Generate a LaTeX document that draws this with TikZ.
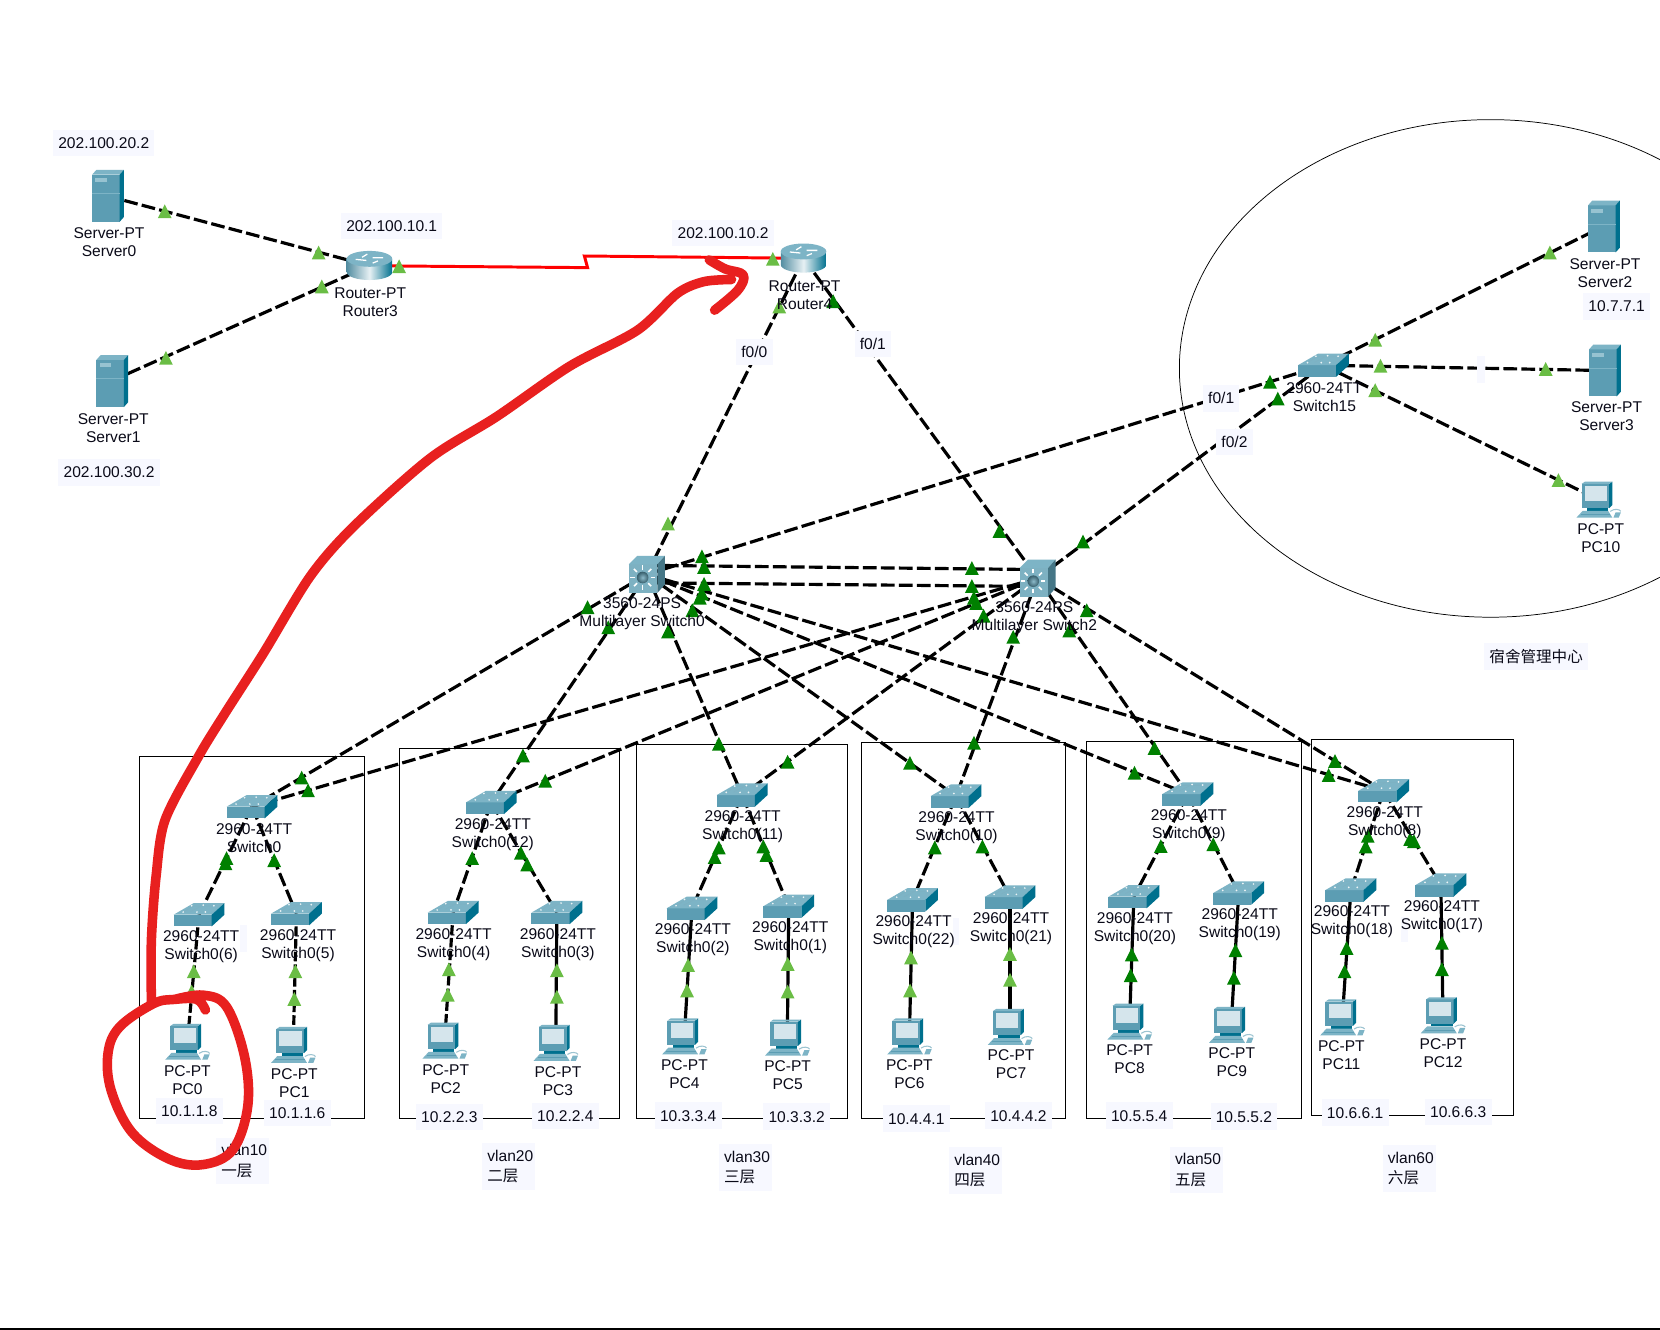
\documentclass[tikz,border=0pt]{standalone}
\usepackage{fontspec}
\setmainfont{Liberation Sans}
\newfontfamily\cjk{Noto Sans CJK SC}
\definecolor{txt}{HTML}{0A0A18}
\definecolor{lbg}{HTML}{F7F8FF}
\definecolor{lgreen}{HTML}{6ABD45}
\definecolor{dgreen}{HTML}{008000}
\definecolor{front}{HTML}{5C9DB3}
\definecolor{topc}{HTML}{7DB4C6}
\definecolor{sidec}{HTML}{00708E}
\definecolor{scr}{HTML}{D5E5EC}
\definecolor{pen}{HTML}{E8201F}
\tikzset{
  x=1pt,y=-1pt,
  link/.style={black,line width=3pt,dash pattern=on 13pt off 4pt},
  linkshort/.style={black,line width=3pt,dash pattern=on 9pt off 3pt},
  linksolid/.style={black,line width=3pt},
  serial/.style={red,line width=2.8pt},
  penstroke/.style={pen,line width=9pt,line cap=round,line join=round},
  vbox/.style={black,line width=1pt},
  devtext/.style={text=txt,font=\fontsize{14.7}{17}\selectfont,align=center,inner sep=0pt,yshift=-.5pt},
  iplabel/.style={text=txt,font=\fontsize{14.7}{17}\selectfont,fill=lbg,inner xsep=5pt,inner ysep=0pt,minimum height=25pt,yshift=-.3pt},
  vlanlabel/.style={text=txt,font=\fontsize{14.7}{19}\selectfont,fill=lbg,inner xsep=5pt,inner ysep=0pt,minimum height=44pt,text width=40pt,align=left,xshift=-1pt,yshift=-.7pt},
}
\newcommand{\tl}[2]{\fill[lgreen,shift={(#1,#2)}] (-6.5,6)--(6.5,6)--(0,-7)--cycle;}
\newcommand{\td}[2]{\fill[dgreen,shift={(#1,#2)}] (-6.5,6)--(6.5,6)--(0,-7)--cycle;}
\newcommand{\swicon}[1]{\begin{scope}[shift={(#1)}]
  \fill[front] (-24,0)--(12,0)--(12,11)--(-24,11)--cycle;
  \fill[topc] (-24,0)--(-5,-11)--(24,-11)--(12,0)--cycle;
  \fill[sidec] (12,0)--(24,-11)--(24,0)--(12,11)--cycle;
  \draw[front!80!white,line width=.6pt] (-14,-3)--(-6,-8)--(12,-8) (-8,-3)--(2,-8);
  \fill[white!85!topc] (-15,-2.5) circle (.9) (-2,-2.5) circle (.9) (4,-9) circle (.9) (14,-8.5) circle (.9) (-7,-8.5) circle (.9) (6,-2.5) circle (.9);
\end{scope}}
\newcommand{\mlsicon}[1]{\begin{scope}[shift={(#1)}]
  \fill[front!80!white] (-17,-9.5) rectangle (10,17.5);
  \fill[topc] (-17,-9.5)--(-9,-17.5)--(17,-17.5)--(10,-9.5)--cycle;
  \fill[front!75!black] (10,-9.5)--(17,-17.5)--(17,9.5)--(10,17.5)--cycle;
  \foreach \a in {0,45,...,315}{\draw[white,line width=1.5pt,shift={(-4,3)}] (\a:7.5)--(\a:11.5);}
  \shade[inner color=front!70!white,outer color=front!60!black] (-4,3) circle (5.5);
\end{scope}}
\newcommand{\rticon}[1]{\begin{scope}[shift={(#1)}]
  \shade[left color=front!90!black,right color=sidec,middle color=white!85!front] (-21.5,-6.5)--(-21.5,6) arc[x radius=21.5,y radius=7.5,start angle=180,end angle=0] --(21.5,-6.5)--cycle;
  \fill[topc] (0,-6.5) ellipse[x radius=21.5,y radius=7.5];
  \draw[white,line width=1.2pt] (-13,-6)--(-3,-5) (13,-7.5)--(3,-7.5) (-2,-11)--(-7,-8) (3,-2.5)--(8,-4.5);
\end{scope}}
\newcommand{\svicon}[1]{\begin{scope}[shift={(#1)}]
  \fill[front] (-14,-20) rectangle (12,24.5);
  \fill[topc] (-14,-20)--(-10,-24.5)--(16,-24.5)--(12,-20)--cycle;
  \fill[sidec] (12,-20)--(16,-24.5)--(16,20)--(12,24.5)--cycle;
  \fill[topc!80!white] (-11,-17) rectangle (0,-13);
  \draw[topc,line width=.6pt] (-14,-2.4)--(12,-2.4);
\end{scope}}
\newcommand{\pcicon}[1]{\begin{scope}[shift={(#1)}]
  \fill[front] (-16,-15) rectangle (10,8);
  \fill[sidec] (10,-15)--(13,-17)--(13,5)--(10,8)--cycle;
  \fill[topc] (-16,-15)--(-13,-17)--(13,-17)--(10,-15)--cycle;
  \fill[scr] (-13,-13) rectangle (8,1);
  \fill[sidec] (-11,8) rectangle (9,10.5);
  \fill[topc] (-21,17)--(-15,10.5)--(9,10.5)--(13,17)--cycle;
  \draw[front,line width=.5pt] (-17,14)--(11,14);
  \draw[front!60!white,line width=1pt] (11,11)..controls (15,8) and (20,9)..(21,11);
  \fill[topc] (14,17)--(16,12)--(21,12)--(19,17)--cycle;
\end{scope}}
\newcommand{\ghost}[4]{\fill[lbg] (#1,#2) rectangle (#3,#4);}
\begin{document}
\begin{tikzpicture}
\useasboundingbox (0,0) rectangle (1568,1256);
\fill[white] (0,0) rectangle (1568,1256);
\fill[black] (0,1254.4) rectangle (1568,1256);
% devices
\coordinate (server0) at (101,185);
\coordinate (server1) at (105,360);
\coordinate (router3) at (349,251);
\coordinate (router4) at (759,244);
\coordinate (mls0) at (611,542.5);
\coordinate (mls2) at (980,546);
\coordinate (sw15) at (1250,345);
\coordinate (server2) at (1514,214);
\coordinate (server3) at (1515,350);
\coordinate (pc10) at (1510,472);
\coordinate (sw0) at (238,762);
\coordinate (sw12) at (464,758);
\coordinate (sw11) at (701,751);
\coordinate (sw10) at (903,752);
\coordinate (sw9) at (1122,750);
\coordinate (sw8) at (1307,747);
\coordinate (sw6) at (188,864);
\coordinate (sw5) at (280,863);
\coordinate (sw4) at (428,862);
\coordinate (sw3) at (526,862);
\coordinate (sw2) at (653.6,858);
\coordinate (sw1) at (745,856);
\coordinate (sw22) at (862,850);
\coordinate (sw21) at (954,847.3);
\coordinate (sw20) at (1071,847);
\coordinate (sw19) at (1170,843.5);
\coordinate (sw18) at (1276,840.7);
\coordinate (sw17) at (1361,836);
\coordinate (pc0) at (177,984);
\coordinate (pc1) at (277,987);
\coordinate (pc2) at (420,983);
\coordinate (pc3) at (525,985);
\coordinate (pc4) at (646.4,979);
\coordinate (pc5) at (743.7,980);
\coordinate (pc6) at (859,979);
\coordinate (pc7) at (954,970);
\coordinate (pc8) at (1067,965);
\coordinate (pc9) at (1163,968);
\coordinate (pc11) at (1268,961);
\coordinate (pc12) at (1363,959);
% vlan boxes
\draw[vbox] (132,714.5) rectangle (344,1056.4);
\draw[vbox] (377,707) rectangle (585,1056.4);
\draw[vbox] (601.3,703.5) rectangle (800.7,1056.4);
\draw[vbox] (814,701.5) rectangle (1006.6,1056.4);
\draw[vbox] (1026.3,700.5) rectangle (1229,1056.4);
\draw[vbox] (1239,698.3) rectangle (1430,1053.5);
% dormitory ellipse
\begin{scope}
\clip (0,0) rectangle (1568,1256);
\draw[black,line width=.7pt] (1408,348) ellipse[x radius=294,y radius=235];
\end{scope}
% links
\draw[serial] (router3)--(555,252.8)--(552,241.8)--(router4);
\draw[link] (server0)--(router3);
\draw[link] (server1)--(router3);
\draw[link] (router4)--(mls0);
\draw[link] (router4)--(mls2);
\draw[link] (mls0)--(sw15);
\draw[link] (mls2)--(sw15);
\draw[link] ([yshift=8.5pt]mls0)--([yshift=8pt]mls2);
\draw[link] ([yshift=-8pt]mls0)--([yshift=-8pt]mls2);
\foreach \s in {sw0,sw12,sw11,sw10,sw9,sw8}{
  \draw[link] (mls0)--(\s);
  \draw[link] (mls2)--(\s);
}
\draw[link] (sw15)--(server2);
\draw[link] (sw15)--(server3);
\draw[link] (sw15)--(pc10);
\draw[link] (sw0)--(sw6);
\draw[link] (sw0)--(sw5);
\draw[link] (sw12)--(sw4);
\draw[link] (sw12)--(sw3);
\draw[link] (sw11)--(sw2);
\draw[link] (sw11)--(sw1);
\draw[link] (sw10)--(sw22);
\draw[link] (sw10)--(sw21);
\draw[link] (sw9)--(sw20);
\draw[link] (sw9)--(sw19);
\draw[link] (sw8)--(sw18);
\draw[link] (sw8)--(sw17);
\draw[linkshort] (sw6)--(pc0);
\draw[linkshort] (sw5)--(pc1);
\draw[linkshort] (sw4)--(pc2);
\draw[linksolid] (sw3)--(pc3);
\draw[linksolid] (sw2)--(pc4);
\draw[linksolid] (sw1)--(pc5);
\draw[linksolid] (sw22)--(pc6);
\draw[linksolid] (sw21)--(pc7);
\draw[linksolid] (sw20)--(pc8);
\draw[linksolid] (sw19)--(pc9);
\draw[linksolid] (sw18)--(pc11);
\draw[linksolid] (sw17)--(pc12);
% link lights, light green
\tl{155.6}{200}\tl{301}{239}\tl{304}{271}\tl{156.7}{338.5}\tl{377}{252}\tl{730}{245}\tl{736}{290}\tl{631}{495}
\tl{1299}{321.5}\tl{1304}{346}\tl{1299}{369}\tl{1464}{239}\tl{1460}{349}\tl{1472}{454}
\tl{183}{918}\tl{181}{937}\tl{279}{918}\tl{278}{944}\tl{424}{916}\tl{423}{940}\tl{526}{917}\tl{526}{942}
\tl{650}{912}\tl{649}{936}\tl{744}{911}\tl{744}{937}\tl{860.5}{905}\tl{859.6}{936}\tl{954}{901.5}\tl{954}{926}
% link lights, dark green
\td{787}{285}\td{663}{526}\td{665}{536}\td{665}{552}\td{663}{561}\td{661}{565}\td{654}{577}\td{631}{597}\td{574.5}{593}\td{555}{574}
\td{918}{537}\td{918}{554}\td{920}{565}\td{922}{570}\td{929}{582}\td{957}{602}\td{1010}{596}\td{1026.5}{577}\td{1023}{512}\td{944}{502}
\td{1199.6}{361}\td{1207}{377}
\td{679}{703}\td{744}{720}\td{859.5}{721}\td{920}{702}\td{285}{735}\td{291}{747}\td{494}{714}\td{515}{738}
\td{1090.5}{707}\td{1071.6}{730.4}\td{1261}{719.4}\td{1255}{732.6}
\td{214}{811}\td{213}{816}\td{259}{813}\td{446}{811}\td{492}{806}\td{498}{817}
\td{679}{801}\td{675}{810}\td{721}{800}\td{724}{808}\td{883}{801}\td{928}{800}
\td{1096.5}{799.7}\td{1146}{798}\td{1069}{902}\td{1068}{921.6}\td{1167}{898}\td{1165.5}{924}
\td{1292}{790}\td{1290}{800}\td{1332}{793}\td{1335.5}{795}\td{1272}{896}\td{1270}{918}\td{1362}{891}\td{1362}{916}
% icons
\svicon{server0}\svicon{server1}\svicon{server2}\svicon{server3}
\rticon{router3}\rticon{router4}
\mlsicon{mls0}\mlsicon{mls2}
\foreach \s in {sw15,sw0,sw12,sw11,sw10,sw9,sw8,sw6,sw5,sw4,sw3,sw2,sw1,sw22,sw21,sw20,sw19,sw18,sw17}{\swicon{\s}}
\foreach \s in {pc10,pc0,pc1,pc2,pc3,pc4,pc5,pc6,pc7,pc8,pc9,pc11,pc12}{\pcicon{\s}}
% empty label remnants
\ghost{1395.5}{336.6}{1402.7}{361.9}\ghost{226.7}{873.8}{233.6}{899}\ghost{900.5}{867.4}{905.9}{892.6}\ghost{1323}{865.8}{1330}{889.5}
% device labels
\node[devtext] (lserver0) at (103,228) {Server-PT\\Server0};
\node[devtext] (lserver1) at (107,403.5) {Server-PT\\Server1};
\node[devtext] (lrouter3) at (349.7,284.5) {Router-PT\\Router3};
\node[devtext] (lrouter4) at (760,278) {Router-PT\\Router4};
\node[devtext] (lmls0) at (606.5,579.5) {3560-24PS\\Multilayer Switch0};
\node[devtext] (lmls2) at (977,583) {3560-24PS\\Multilayer Switch2};
\node[devtext] (lsw15) at (1251,374.5) {2960-24TT\\Switch15};
\node[devtext] (lserver2) at (1516,257.5) {Server-PT\\Server2};
\node[devtext] (lserver3) at (1517.5,392.5) {Server-PT\\Server3};
\node[devtext] (lpc10) at (1512,508) {PC-PT\\PC10};
\node[devtext] (lsw0) at (240,791.5) {2960-24TT\\Switch0};
\node[devtext] (lsw12) at (465.5,787.5) {2960-24TT\\Switch0(12)};
\node[devtext] (lsw11) at (701.5,780.5) {2960-24TT\\Switch0(11)};
\node[devtext] (lsw10) at (903.5,781.5) {2960-24TT\\Switch0(10)};
\node[devtext] (lsw9) at (1123,779.5) {2960-24TT\\Switch0(9)};
\node[devtext] (lsw8) at (1308,776.5) {2960-24TT\\Switch0(8)};
\node[devtext] (lsw6) at (190,893.5) {2960-24TT\\Switch0(6)};
\node[devtext] (lsw5) at (281.5,892.5) {2960-24TT\\Switch0(5)};
\node[devtext] (lsw4) at (428.5,892) {2960-24TT\\Switch0(4)};
\node[devtext] (lsw3) at (527,892) {2960-24TT\\Switch0(3)};
\node[devtext] (lsw2) at (654.5,887.5) {2960-24TT\\Switch0(2)};
\node[devtext] (lsw1) at (746.5,885.5) {2960-24TT\\Switch0(1)};
\node[devtext] (lsw22) at (863,879.5) {2960-24TT\\Switch0(22)};
\node[devtext] (lsw21) at (955,876.5) {2960-24TT\\Switch0(21)};
\node[devtext] (lsw20) at (1072,877) {2960-24TT\\Switch0(20)};
\node[devtext] (lsw19) at (1171,873) {2960-24TT\\Switch0(19)};
\node[devtext] (lsw18) at (1277,870.5) {2960-24TT\\Switch0(18)};
\node[devtext] (lsw17) at (1362,865.5) {2960-24TT\\Switch0(17)};
\node[devtext] (lpc0) at (177,1019.5) {PC-PT\\PC0};
\node[devtext] (lpc1) at (278,1023) {PC-PT\\PC1};
\node[devtext] (lpc2) at (421,1018.5) {PC-PT\\PC2};
\node[devtext] (lpc3) at (527,1020.5) {PC-PT\\PC3};
\node[devtext] (lpc4) at (646.5,1014.5) {PC-PT\\PC4};
\node[devtext] (lpc5) at (744,1015) {PC-PT\\PC5};
\node[devtext] (lpc6) at (859,1014.5) {PC-PT\\PC6};
\node[devtext] (lpc7) at (955,1005) {PC-PT\\PC7};
\node[devtext] (lpc8) at (1067,1000) {PC-PT\\PC8};
\node[devtext] (lpc9) at (1163.5,1003) {PC-PT\\PC9};
\node[devtext] (lpc11) at (1267,996) {PC-PT\\PC11};
\node[devtext] (lpc12) at (1363,994) {PC-PT\\PC12};
% address and port labels
\node[iplabel] (a1) at (98,135) {202.100.20.2};
\node[iplabel] (a2) at (370,213) {202.100.10.1};
\node[iplabel] (a3) at (683,220) {202.100.10.2};
\node[iplabel] (a4) at (103,446) {202.100.30.2};
\node[iplabel] (a5) at (1527,289) {10.7.7.1};
\node[iplabel] (p1) at (712.5,332) {f0/0};
\node[iplabel] (p2) at (824.5,324.5) {f0/1};
\node[iplabel] (p3) at (1153.5,376) {f0/1};
\node[iplabel] (p4) at (1166,417) {f0/2};
\node[iplabel] (dorm) at (1451,620) {\cjk 宿舍管理中心};
\node[iplabel] (b1) at (178.8,1049) {10.1.1.8};
\node[iplabel] (b2) at (280.8,1050.8) {10.1.1.6};
\node[iplabel] (b3) at (424.4,1054.8) {10.2.2.3};
\node[iplabel] (b4) at (534,1054) {10.2.2.4};
\node[iplabel] (b5) at (650,1053.5) {10.3.3.4};
\node[iplabel] (b6) at (752.5,1054.5) {10.3.3.2};
\node[iplabel] (b7) at (865.5,1056.4) {10.4.4.1};
\node[iplabel] (b8) at (962,1053.5) {10.4.4.2};
\node[iplabel] (b9) at (1076,1053.5) {10.5.5.4};
\node[iplabel] (b10) at (1175,1054.5) {10.5.5.2};
\node[iplabel] (b11) at (1280,1050.7) {10.6.6.1};
\node[iplabel] (b12) at (1377.4,1050) {10.6.6.3};
\node[vlanlabel] (v1) at (230,1096) {vlan10\\{\cjk 一层}};
\node[vlanlabel] (v2) at (481.4,1101) {vlan20\\{\cjk 二层}};
\node[vlanlabel] (v3) at (705,1102) {vlan30\\{\cjk 三层}};
\node[vlanlabel] (v4) at (922.4,1105) {vlan40\\{\cjk 四层}};
\node[vlanlabel] (v5) at (1131,1104.5) {vlan50\\{\cjk 五层}};
\node[vlanlabel] (v6) at (1332,1103) {vlan60\\{\cjk 六层}};
% hand-drawn red annotation
\draw[penstroke] plot[smooth,tension=.5] coordinates {(143,947) (143,888) (147.4,828) (155.9,774.6) (187.4,714.7) (212.5,673.8) (248.8,617.1) (292.8,544.7) (333.8,497.5) (406.2,432.9) (469.2,393.5) (538,346) (602,312) (640,277) (665,266) (691,264)};
\draw[penstroke] plot[smooth,tension=.6] coordinates {(670,245.5) (685,254) (702,259.7) (697,274) (675,293)};
\draw[penstroke] plot[smooth,tension=.6] coordinates {(194,954) (186,944) (165,944) (145,948) (113,970) (102,995) (105,1030) (125,1070) (160,1095) (192,1100) (220,1086) (234,1045) (231,998) (214,951) (192,940) (165,944)};
\end{tikzpicture}
\end{document}
